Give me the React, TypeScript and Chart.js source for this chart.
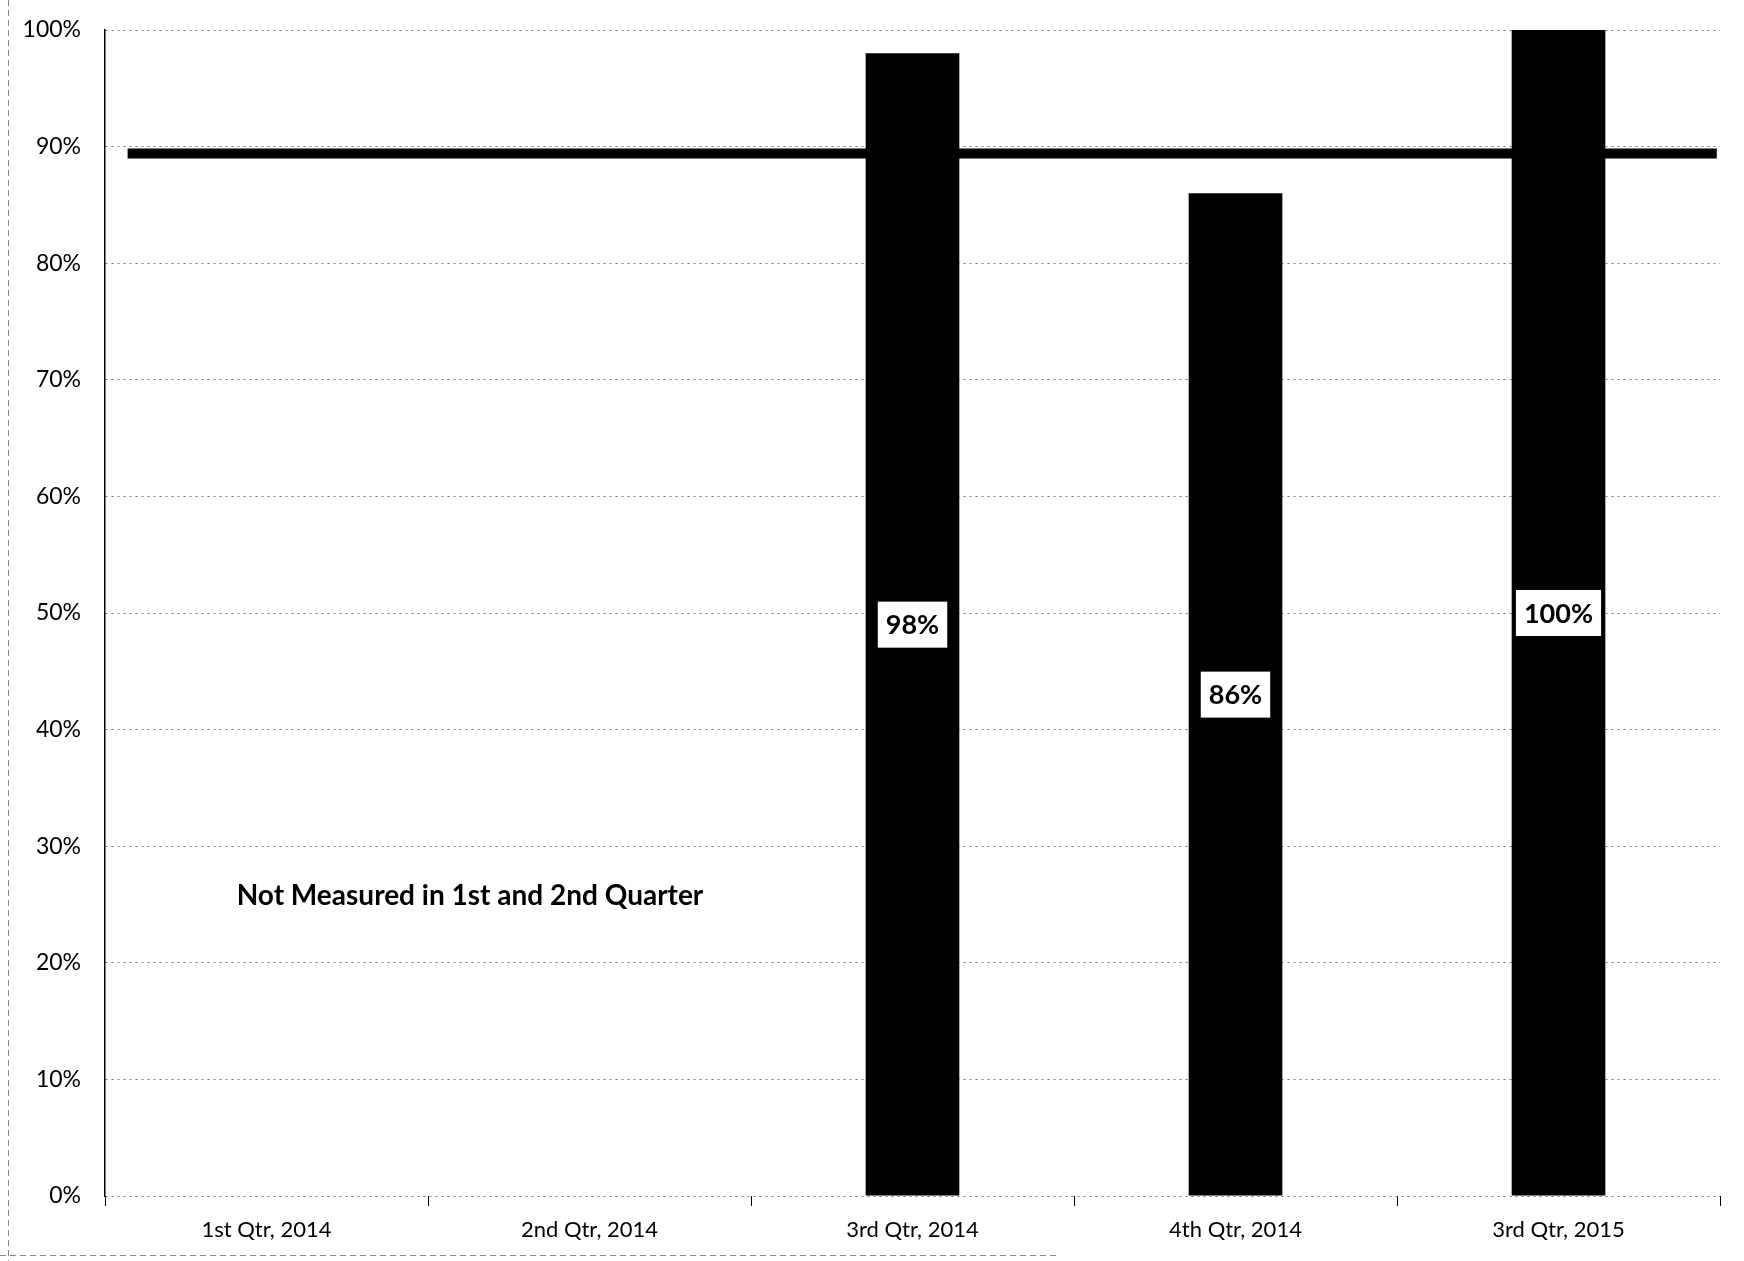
import React, { useEffect, useRef } from "react";
import { Chart, registerables } from "chart.js";

Chart.register(...registerables);

const categories = ["1st Qtr, 2014", "2nd Qtr, 2014", "3rd Qtr, 2014", "4th Qtr, 2014", "3rd Qtr, 2015"];
const barValues: (number | null)[] = [null, null, 98, 86, 100];
const targetValue = 89.4;
const targetSpan = [0.07, 4.99];
const noteText = "Not Measured in 1st and 2nd Quarter";
const notePosition = { x: 0.63, y: 25.7 };

const FONT = "Lato, 'Open Sans', sans-serif";

const labelPlugin = {
  id: "labels",
  afterDatasetsDraw(chart: any) {
    const ctx = chart.ctx;
    const y = chart.scales.y;
    const x = chart.scales.x;
    const meta = chart.getDatasetMeta(0);
    ctx.save();
    ctx.font = `bold 27px ${FONT}`;
    ctx.textAlign = "center";
    ctx.textBaseline = "middle";
    meta.data.forEach((el: any, i: number) => {
      const v = barValues[i];
      if (v == null) return;
      const cy = y.getPixelForValue(v / 2);
      const txt = `${v}%`;
      const w = ctx.measureText(txt).width + 16;
      const h = 46;
      ctx.fillStyle = "#fff";
      ctx.fillRect(el.x - w / 2, cy - h / 2, w, h);
      ctx.fillStyle = "#000";
      ctx.fillText(txt, el.x, cy + 1);
    });
    ctx.font = `bold 28px ${FONT}`;
    ctx.fillStyle = "#000";
    ctx.fillText(noteText, x.getPixelForValue(notePosition.x), y.getPixelForValue(notePosition.y));
    ctx.restore();
  },
  beforeDraw(chart: any) {
    const ctx = chart.ctx;
    ctx.save();
    ctx.fillStyle = "#fff";
    ctx.fillRect(0, 0, chart.width, chart.height);
    ctx.strokeStyle = "#888";
    ctx.lineWidth = 1;
    ctx.setLineDash([6, 4]);
    ctx.beginPath();
    ctx.moveTo(8.5, 0);
    ctx.lineTo(8.5, chart.height);
    ctx.moveTo(0, 1255.5);
    ctx.lineTo(1060, 1255.5);
    ctx.stroke();
    ctx.restore();
  },
};

export default function App() {
  const ref = useRef<HTMLCanvasElement>(null);
  useEffect(() => {
    if (!ref.current) return;
    const chart = new Chart(ref.current, {
      type: "bar",
      data: {
        labels: categories,
        datasets: [
          {
            type: "bar",
            data: barValues as any,
            backgroundColor: "#000",
            borderWidth: 0,
            grouped: false,
            categoryPercentage: 1,
            barPercentage: 0.29,
            order: 2,
          },
          {
            type: "line",
            data: [
              { x: targetSpan[0], y: targetValue },
              { x: targetSpan[1], y: targetValue },
            ] as any,
            xAxisID: "xt",
            borderColor: "#000",
            borderWidth: 10,
            pointRadius: 0,
            borderCapStyle: "butt",
            order: 1,
          },
        ],
      },
      options: {
        responsive: false,
        animation: false,
        layout: { padding: { top: 30, right: 24, left: 0, bottom: 0 } },
        plugins: { legend: { display: false }, tooltip: { enabled: false }, title: { display: false } },
        scales: {
          x: {
            offset: true,
            grid: { display: true, drawOnChartArea: false, drawTicks: true, tickLength: 10, color: "#000", offset: true },
            border: { display: false },
            ticks: {
              color: "#000",
              font: { family: FONT, size: 22 },
              padding: 11,
              maxRotation: 0,
              autoSkip: false,
            },
            afterFit(s: any) {
              s.height = 65;
              s.paddingLeft = 0;
              s.paddingRight = 0;
            },
          },
          xt: {
            type: "linear",
            display: false,
            offset: false,
            min: 0,
            max: 5,
          },
          y: {
            min: 0,
            max: 100,
            ticks: {
              stepSize: 10,
              color: "#000",
              font: { family: FONT, size: 23 },
              padding: 24,
              callback: (v: any) => `${v}%`,
            },
            grid: { color: "#777", lineWidth: 1, drawTicks: false },
            border: { display: true, color: "#000", width: 1.5, dash: [2, 4] },
            afterFit(s: any) {
              s.width = 105;
              s.paddingTop = 0;
              s.paddingBottom = 0;
            },
          },
        },
      },
      plugins: [labelPlugin],
    } as any);
    return () => chart.destroy();
  }, []);
  return (
    <div style={{ position: "fixed", left: 0, top: 0, width: 1744, height: 1261, background: "#fff" }}>
      <canvas ref={ref} width={1744} height={1261} />
    </div>
  );
}
